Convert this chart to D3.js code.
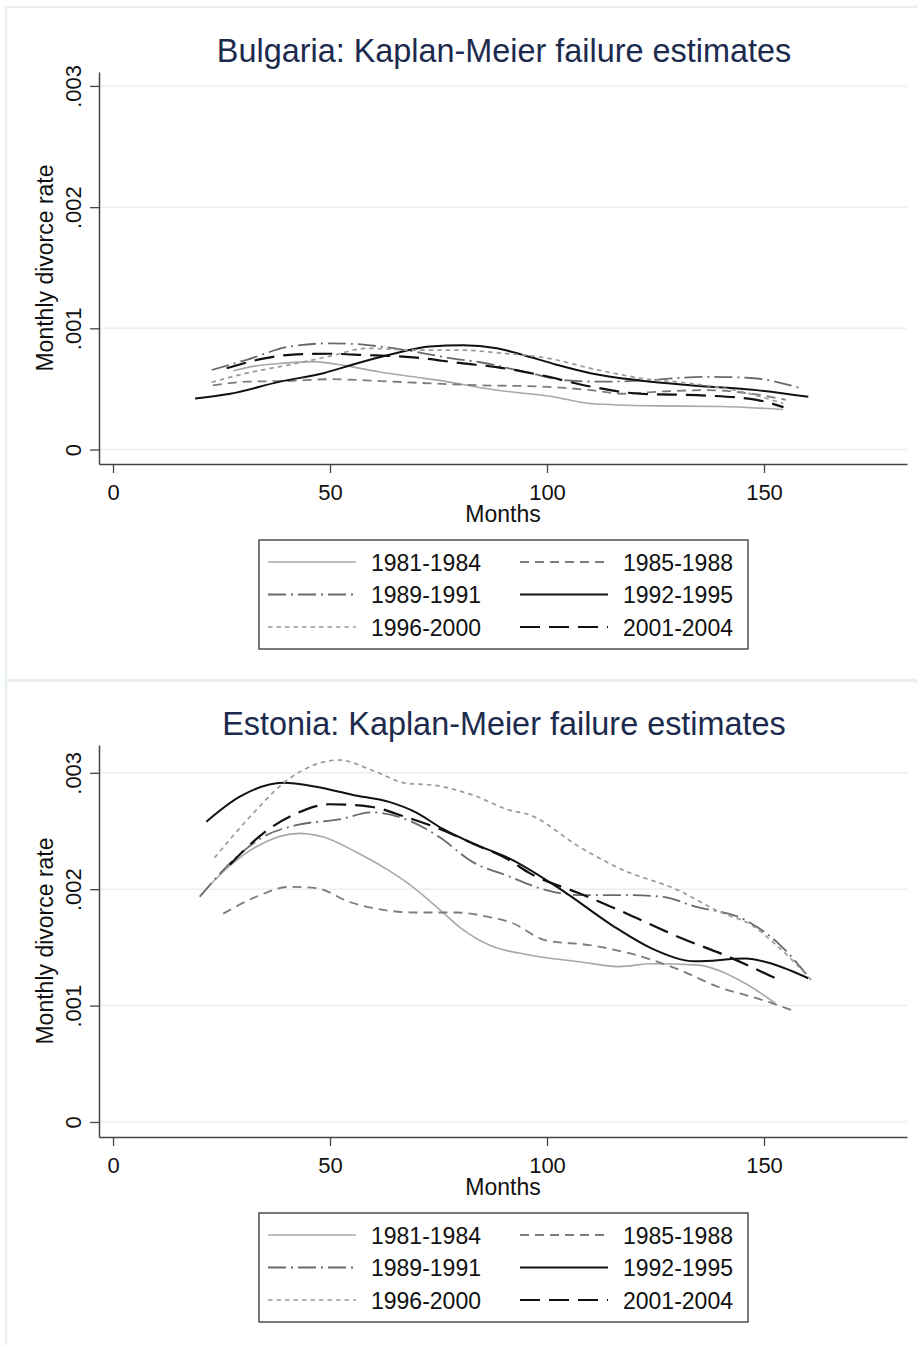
<!DOCTYPE html>
<html>
<head>
<meta charset="utf-8">
<script src="https://cdn.jsdelivr.net/npm/d3@7"></script>
<style>
  body { margin: 0; background: #fff; }
  svg { display: block; font-family: "Liberation Sans", Arial, sans-serif; }
</style>
</head>
<body>
<svg id="chart" width="918" height="1345"></svg>
<script>
// cohorts and their line styles (legend order)
const cohorts = ["1981-1984", "1985-1988", "1989-1991", "1992-1995", "1996-2000", "2001-2004"];
const yTicks = [0, 0.001, 0.002, 0.003];
const xTicks = [0, 50, 100, 150];

// Bulgaria: [months, monthly divorce rate]
const bg1981 = [[27.7,.00065],[33,.00069],[38.5,.00071],[46,.000725],[53.8,.00069],[61.5,.00064],[69.2,.0006],[76.9,.00056],[84.6,.00051],[93,.00047],[100.7,.00044],[110,.00038],[125,.00036],[140,.000355],[154.4,.00033]];
const bg1985 = [[23,.00053],[31,.00056],[40,.000565],[50,.00058],[61.5,.000565],[73,.000546],[84.6,.00053],[98.4,.00052],[110,.00049],[117.5,.00046],[127,.00048],[137,.00049],[147,.00046],[155,.00041]];
const bg1989 = [[22.7,.000656],[30.8,.00074],[40.8,.00085],[50,.000876],[56,.00087],[61.5,.00085],[69.2,.00081],[78.4,.00075],[84.6,.00072],[95,.00064],[104.5,.00057],[112,.00056],[123,.00057],[130,.00059],[137,.0006],[147,.00059],[159,.0005]];
const bg1992 = [[18.9,.00042],[27,.00046],[38.5,.00056],[48.5,.00063],[56.1,.00071],[64.6,.00079],[73,.00085],[80.7,.00086],[88.4,.000835],[94.5,.00078],[102.2,.0007],[110,.00063],[121.4,.00057],[133,.00053],[148.3,.00049],[160.2,.000435]];
const bg1996 = [[22.7,.000555],[30.8,.00063],[40.8,.0007],[50,.00077],[58.5,.000835],[69.2,.00082],[80.7,.00082],[88,.0008],[100.7,.00075],[110,.00067],[121.4,.00059],[133,.000546],[144.5,.00048],[154.4,.00038]];
const bg2001 = [[26.2,.00067],[34.6,.00075],[42.3,.000785],[50,.00079],[57.7,.00078],[69.2,.00076],[80.7,.00071],[88.4,.00068],[98.4,.000615],[110,.00052],[121.4,.00046],[136.8,.000445],[148.3,.00041],[154.5,.00035]];

// Estonia
const ee1981 = [[20,.00194],[25.4,.00215],[33,.002365],[43,.00248],[48.3,.00245],[56,.00232],[63.6,.00216],[68,.00205],[72,.00193],[76,.0018],[80,.00167],[86.7,.00152],[95.9,.001435],[107.4,.001377],[116.6,.001335],[124.2,.00136],[134.2,.00135],[145.7,.00119],[152.6,.00102]];
const ee1985 = [[25.4,.00179],[33,.001935],[40.6,.00202],[46.8,.00201],[54.5,.00189],[63.6,.001815],[69.8,.0018],[79,.0018],[86.7,.00176],[92,.00171],[99.7,.00156],[109.7,.00152],[118.9,.00145],[130.3,.00131],[139.5,.00116],[149.5,.00105],[157.2,.00095]];
const ee1989 = [[20,.001935],[27.7,.00225],[34.6,.00245],[42.2,.00255],[52.1,.0026],[59.8,.00266],[67.5,.0026],[75.1,.00245],[82.8,.002235],[91.3,.00211],[98.2,.00201],[107.4,.00195],[117.3,.00195],[126.5,.001935],[134.2,.00185],[145.7,.001735],[153.3,.001535],[160.2,.00125]];
const ee1992 = [[21.5,.00258],[29.2,.002795],[39.2,.002915],[46.8,.00288],[55.3,.00281],[63.6,.00275],[69.8,.00266],[75.9,.00252],[82.8,.002395],[91.3,.002265],[103.5,.00199],[115,.00169],[124.2,.00149],[134.2,.00138],[145.7,.001405],[151.8,.00136],[160.2,.001235]];
const ee1996 = [[23.4,.00227],[31.5,.00262],[40.6,.00295],[52.1,.00311],[59.8,.00302],[67.5,.00291],[73.6,.002895],[82.8,.00281],[91.3,.00268],[95.9,.00264],[107.4,.002365],[116.6,.00218],[130.3,.00199],[139.5,.00181],[147.2,.00169],[153.3,.001505],[160.9,.00122]];
const ee2001 = [[26.9,.00221],[34.6,.00248],[42.2,.00265],[49.9,.00273],[59.1,.00271],[67.5,.00262],[75.1,.00252],[82.8,.002395],[91.3,.00225],[95.9,.00214],[107.4,.001965],[116.6,.00182],[130.3,.00159],[141.8,.00142],[152.6,.001235]];

const styles = [
  {color:"#a8a8a8", width:1.6, dash:null},
  {color:"#7c7c7c", width:1.8, dash:"9,6"},
  {color:"#6a6a6a", width:1.8, dash:"18,5,2,5"},
  {color:"#111111", width:2.0, dash:null},
  {color:"#9a9a9a", width:1.7, dash:"4.5,4"},
  {color:"#111111", width:2.2, dash:"20,9"}
];

const panels = [
  {title:"Bulgaria: Kaplan-Meier failure estimates", series:[bg1981,bg1985,bg1989,bg1992,bg1996,bg2001],
   top:72, bottom:464, yDomain:[-0.0001196, 0.003115], titleY:62, frameY:7, frameH:673},
  {title:"Estonia: Kaplan-Meier failure estimates", series:[ee1981,ee1985,ee1989,ee1992,ee1996,ee2001],
   top:745, bottom:1137, yDomain:[-0.000129, 0.003239], titleY:735, frameY:681, frameH:700}
];

const svg = d3.select("#chart");
const left = 99, right = 907;
const x = d3.scaleLinear().domain([-3.23, 182.95]).range([left, right]);

panels.forEach(p=>{
  // panel frame
  svg.append("rect")
    .attr("x",6).attr("y",p.frameY).attr("width",940).attr("height",p.frameH)
    .attr("fill","none").attr("stroke","#e7eff1").attr("stroke-width",2.5);

  const y = d3.scaleLinear().domain(p.yDomain).range([p.bottom, p.top]);
  const g = svg.append("g");

  // grid
  g.selectAll(".grid").data(yTicks).enter().append("line")
    .attr("x1",left).attr("x2",right)
    .attr("y1",d=>y(d)).attr("y2",d=>y(d))
    .attr("stroke","#e9f0f3").attr("stroke-width",1.5);

  // y axis
  const ya = g.append("g").attr("transform",`translate(${left},0)`)
    .call(d3.axisLeft(y).tickValues(yTicks).tickSize(9).tickSizeOuter(0)
      .tickFormat(d=>d===0?"0":d3.format(".3f")(d).replace(/^0/,"")));
  ya.select(".domain").attr("stroke","#444").attr("stroke-width",1.5);
  ya.selectAll(".tick line").attr("stroke","#444").attr("stroke-width",1.3);
  ya.selectAll(".tick text")
    .attr("x",0).attr("y",-18).attr("dy",0)
    .attr("transform","rotate(-90)")
    .attr("text-anchor","middle")
    .attr("font-size",22).attr("fill","#111").attr("font-family",null);

  // x axis
  const xa = g.append("g").attr("transform",`translate(0,${p.bottom})`)
    .call(d3.axisBottom(x).tickValues(xTicks).tickSize(9).tickSizeOuter(0));
  xa.select(".domain").attr("stroke","#444").attr("stroke-width",1.5);
  xa.selectAll(".tick line").attr("stroke","#444").attr("stroke-width",1.3);
  xa.selectAll(".tick text").attr("y",36).attr("dy",0)
    .attr("font-size",22).attr("fill","#111").attr("font-family",null);

  // titles
  svg.append("text").attr("x",504).attr("y",p.titleY)
    .attr("text-anchor","middle").attr("font-size",32.4).attr("fill","#1c2b4d")
    .text(p.title);
  svg.append("text").attr("x",503).attr("y",p.bottom+58)
    .attr("text-anchor","middle").attr("font-size",23).attr("fill","#111")
    .text("Months");
  svg.append("text")
    .attr("transform",`translate(53,${(p.top+p.bottom)/2}) rotate(-90)`)
    .attr("text-anchor","middle").attr("font-size",23).attr("fill","#111")
    .text("Monthly divorce rate");

  // curves
  const line = d3.line().x(d=>x(d[0])).y(d=>y(d[1])).curve(d3.curveMonotoneX);
  p.series.forEach((s,i)=>{
    g.append("path").datum(s)
      .attr("d",line)
      .attr("fill","none")
      .attr("stroke",styles[i].color)
      .attr("stroke-width",styles[i].width)
      .attr("stroke-dasharray",styles[i].dash);
  });

  // legend
  const lg = svg.append("g").attr("transform",`translate(0,${p.bottom})`);
  lg.append("rect").attr("x",259).attr("y",76).attr("width",489).attr("height",109)
    .attr("fill","#fff").attr("stroke","#333").attr("stroke-width",1.3);
  cohorts.forEach((c,i)=>{
    const col = i%2, row = Math.floor(i/2);
    const lx = col===0?268:520, ty = 98 + row*32.5;
    lg.append("line").attr("x1",lx).attr("x2",lx+88).attr("y1",ty).attr("y2",ty)
      .attr("stroke",styles[i].color).attr("stroke-width",styles[i].width)
      .attr("stroke-dasharray",styles[i].dash);
    lg.append("text").attr("x",lx+103).attr("y",ty+8.5)
      .attr("font-size",23).attr("fill","#111").text(c);
  });
});
</script>
</body>
</html>
